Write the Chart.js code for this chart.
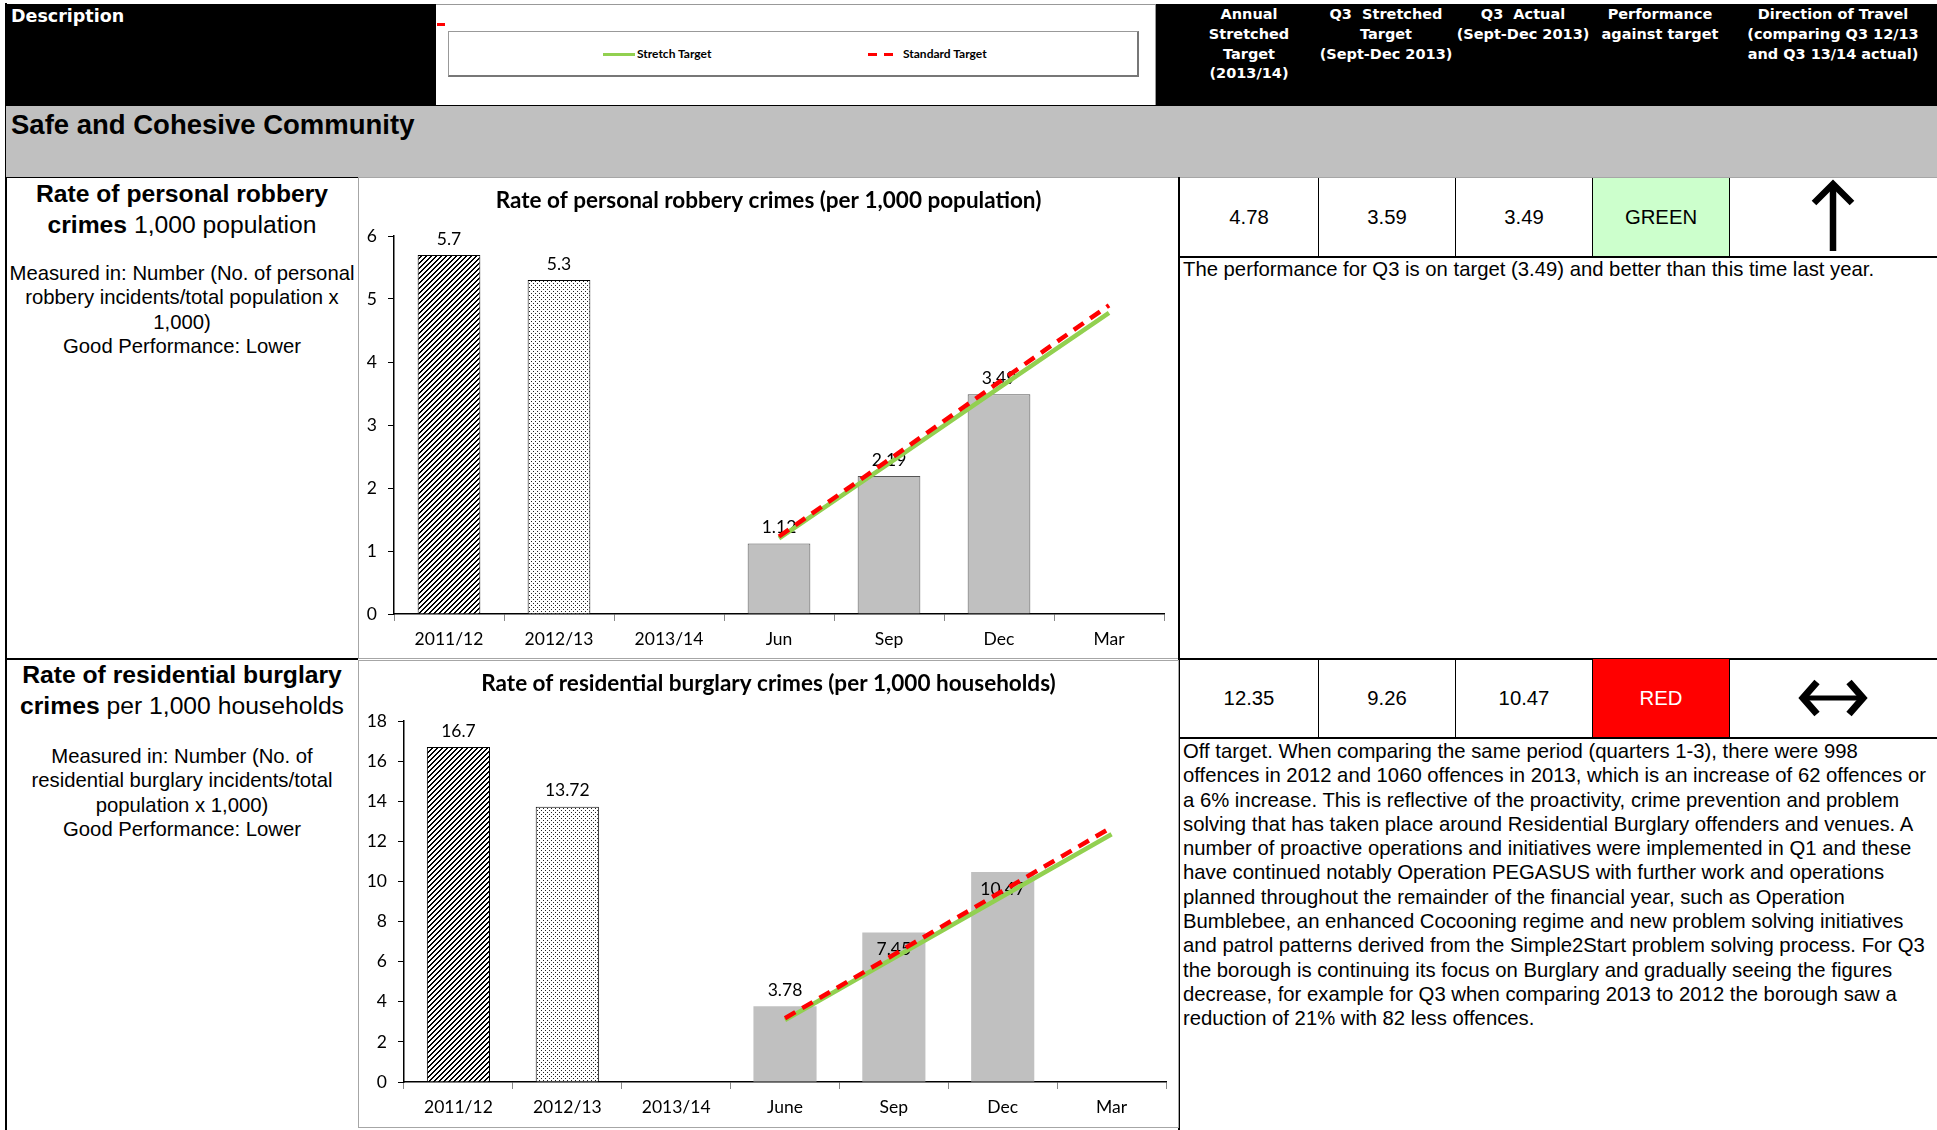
<!DOCTYPE html>
<html>
<head>
<meta charset="utf-8">
<script src="https://cdn.jsdelivr.net/npm/chart.js@4.4.1/dist/chart.umd.min.js"></script>
<style>
  body { margin: 0; width: 1937px; height: 1130px; overflow: hidden; background: #fff; font-family: "Liberation Sans", Arial, sans-serif; color: #000; position: relative; }
  .abs { position: absolute; }
  .hdr { font-family: "DejaVu Sans", Verdana, sans-serif; font-weight: bold; color: #fff; font-size: 14.5px; line-height: 19.8px; text-align: center; white-space: nowrap; }
  .cell { position: absolute; display: flex; align-items: center; justify-content: center; font-size: 20.3px; box-sizing: border-box; }
  .note { position: absolute; font-size: 20.3px; line-height: 24.3px; white-space: nowrap; }
  .lefttitle { position: absolute; left: 6px; width: 352px; text-align: center; font-size: 24.7px; line-height: 30.8px; white-space: nowrap; }
  .leftnote { position: absolute; left: 6px; width: 352px; text-align: center; font-size: 20.3px; line-height: 24.3px; white-space: nowrap; }
  .box { position: absolute; border: 1px solid #a6a6a6; box-sizing: border-box; }
  .legtxt { position: absolute; font-family: Lato, sans-serif; font-weight: bold; font-size: 12px; line-height: 14px; }
</style>
</head>
<body>

<!-- page frame -->
<div class="abs" style="left:5px;top:3px;width:2px;height:1127px;background:#000"></div>

<!-- header -->
<div class="abs" style="left:6px;top:4px;width:430px;height:102px;background:#000"></div>
<div class="abs hdr" style="left:11px;top:5px;font-size:17.5px;line-height:22px;text-align:left">Description</div>

<div class="abs" style="left:436px;top:4px;width:720px;height:102px;background:#fff;border-top:1px solid #999;border-right:1px solid #999;box-sizing:border-box"></div>
<div class="abs" style="left:437px;top:23px;width:8px;height:3px;background:#ff0000"></div>
<div class="abs" style="left:448px;top:31px;width:691px;height:46px;border:1px solid #999;border-right:2px solid #777;border-bottom:2px solid #777;box-sizing:border-box"></div>
<div class="abs" style="left:603px;top:53px;width:32px;height:3px;background:#92d050"></div>
<div class="legtxt" style="left:637px;top:47px">Stretch Target</div>
<div class="abs" style="left:868px;top:53px;width:9px;height:3px;background:#ff0000"></div>
<div class="abs" style="left:884px;top:53px;width:9px;height:3px;background:#ff0000"></div>
<div class="legtxt" style="left:903px;top:47px">Standard Target</div>

<div class="abs" style="left:1156px;top:4px;width:781px;height:102px;background:#000"></div>
<div class="abs hdr" style="left:1180px;top:5px;width:138px">Annual<br>Stretched<br>Target<br>(2013/14)</div>
<div class="abs hdr" style="left:1317px;top:5px;width:138px">Q3&nbsp; Stretched<br>Target<br>(Sept-Dec 2013)</div>
<div class="abs hdr" style="left:1454px;top:5px;width:138px">Q3&nbsp; Actual<br>(Sept-Dec 2013)</div>
<div class="abs hdr" style="left:1591px;top:5px;width:138px">Performance<br>against target</div>
<div class="abs hdr" style="left:1729px;top:5px;width:208px">Direction of Travel<br>(comparing Q3 12/13<br>and Q3 13/14 actual)</div>

<!-- section band -->
<div class="abs" style="left:6px;top:105px;width:1931px;height:72px;background:#c0c0c0;border-top:1px solid #000;box-sizing:border-box"></div>
<div class="abs" style="left:11px;top:109px;font-size:27.5px;line-height:32px;font-weight:bold;white-space:nowrap">Safe and Cohesive Community</div>

<!-- row 1 -->
<div class="abs" style="left:6px;top:177px;width:352px;height:1px;background:#000"></div>
<div class="lefttitle" style="top:179px"><b>Rate of personal robbery</b><br><b>crimes</b> 1,000 population</div>
<div class="leftnote" style="top:261px">Measured in: Number (No. of personal<br>robbery incidents/total population x<br>1,000)<br>Good Performance: Lower</div>
<div class="box" style="left:358px;top:177px;width:821px;height:482px"></div>
<canvas id="robbery" class="abs" width="819" height="481" style="left:359px;top:177px"></canvas>

<div class="abs" style="left:1179px;top:177px;width:758px;height:1px;background:#a6a6a6"></div>
<div class="abs" style="left:1178px;top:177px;width:1.5px;height:953px;background:#000"></div>
<div class="cell" style="left:1180px;top:178px;width:138px;height:79px">4.78</div>
<div class="cell" style="left:1318px;top:178px;width:137px;height:79px;border-left:1px solid #000">3.59</div>
<div class="cell" style="left:1455px;top:178px;width:137px;height:79px;border-left:1px solid #000">3.49</div>
<div class="cell" style="left:1592px;top:178px;width:137px;height:79px;border-left:1px solid #000;background:#ccffcc">GREEN</div>
<div class="cell" style="left:1729px;top:178px;width:208px;height:79px;border-left:1px solid #000"></div>
<svg class="abs" style="left:1729px;top:177px" width="208" height="80">
  <polyline points="85,26 104,7 123,26" fill="none" stroke="#000" stroke-width="6.5" stroke-linejoin="miter"/>
  <line x1="104" y1="10" x2="104" y2="74" stroke="#000" stroke-width="6.5"/>
</svg>
<div class="abs" style="left:1179px;top:256px;width:758px;height:1.5px;background:#000"></div>
<div class="note" style="left:1183px;top:257px">The performance for Q3 is on target (3.49) and better than this time last year.</div>

<!-- row 2 -->
<div class="abs" style="left:6px;top:658px;width:352px;height:1.5px;background:#000"></div>
<div class="lefttitle" style="top:660px"><b>Rate of residential burglary</b><br><b>crimes</b> per 1,000 households</div>
<div class="leftnote" style="top:744px">Measured in: Number (No. of<br>residential burglary incidents/total<br>population x 1,000)<br>Good Performance: Lower</div>
<div class="box" style="left:358px;top:660px;width:821px;height:468px"></div>
<canvas id="burglary" class="abs" width="819" height="467" style="left:359px;top:660px"></canvas>

<div class="abs" style="left:1179px;top:658px;width:758px;height:1.5px;background:#000"></div>
<div class="cell" style="left:1180px;top:659px;width:138px;height:79px">12.35</div>
<div class="cell" style="left:1318px;top:659px;width:137px;height:79px;border-left:1px solid #000">9.26</div>
<div class="cell" style="left:1455px;top:659px;width:137px;height:79px;border-left:1px solid #000">10.47</div>
<div class="cell" style="left:1592px;top:659px;width:137px;height:79px;border-left:1px solid #000;background:#ff0000;color:#fff">RED</div>
<div class="cell" style="left:1729px;top:659px;width:208px;height:79px;border-left:1px solid #000"></div>
<svg class="abs" style="left:1729px;top:658px" width="208" height="80">
  <polyline points="88,24 74,40 88,56" fill="none" stroke="#000" stroke-width="7" stroke-linejoin="miter"/>
  <polyline points="120,24 134,40 120,56" fill="none" stroke="#000" stroke-width="7" stroke-linejoin="miter"/>
  <line x1="78" y1="40" x2="130" y2="40" stroke="#000" stroke-width="5"/>
</svg>
<div class="abs" style="left:1179px;top:737px;width:758px;height:1.5px;background:#000"></div>
<div class="note" style="left:1183px;top:739px">Off target. When comparing the same period (quarters 1-3), there were 998<br>offences in 2012 and 1060 offences in 2013, which is an increase of 62 offences or<br>a 6% increase. This is reflective of the proactivity, crime prevention and problem<br>solving that has taken place around Residential Burglary offenders and venues. A<br>number of proactive operations and initiatives were implemented in Q1 and these<br>have continued notably Operation PEGASUS with further work and operations<br>planned throughout the remainder of the financial year, such as Operation<br>Bumblebee, an enhanced Cocooning regime and new problem solving initiatives<br>and patrol patterns derived from the Simple2Start problem solving process. For Q3<br>the borough is continuing its focus on Burglary and gradually seeing the figures<br>decrease, for example for Q3 when comparing 2013 to 2012 the borough saw a<br>reduction of 21% with 82 less offences.</div>

<script>
// robbery chart data
var robberyLabels = ['2011/12', '2012/13', '2013/14', 'Jun', 'Sep', 'Dec', 'Mar'];
var robberyActual = [5.7, 5.3, null, 1.12, 2.19, 3.49, null];
var robberyStretch = [null, null, null, 1.2, 2.39, 3.59, 4.78];
var robberyStandard = [null, null, null, 1.23, 2.45, 3.68, 4.9];
var robberyTicks = [0, 1, 2, 3, 4, 5, 6];

// burglary chart data
var burglaryLabels = ['2011/12', '2012/13', '2013/14', 'June', 'Sep', 'Dec', 'Mar'];
var burglaryActual = [16.7, 13.72, null, 3.78, 7.45, 10.47, null];
var burglaryStretch = [null, null, null, 3.09, 6.18, 9.26, 12.35];
var burglaryStandard = [null, null, null, 3.18, 6.35, 9.53, 12.7];
var burglaryTicks = [0, 2, 4, 6, 8, 10, 12, 14, 16, 18];

Chart.defaults.color = '#000';
Chart.defaults.font.family = 'Lato';

// diagonal "/" hatch, drawn pixel by pixel so it stays crisp
function hatchPattern() {
  var c = document.createElement('canvas');
  c.width = 5; c.height = 5;
  var g = c.getContext('2d');
  g.fillStyle = '#fff';
  g.fillRect(0, 0, 5, 5);
  g.fillStyle = '#000';
  for (var x = 0; x < 5; x++) {
    for (var y = 0; y < 5; y++) {
      if ((x + y) % 5 < 2) g.fillRect(x, y, 1, 1);
    }
  }
  return g.createPattern(c, 'repeat');
}

function dotPattern() {
  var c = document.createElement('canvas');
  c.width = 4; c.height = 4;
  var g = c.getContext('2d');
  g.fillStyle = '#fff';
  g.fillRect(0, 0, 4, 4);
  g.fillStyle = '#222';
  g.fillRect(0, 0, 1, 1);
  g.fillRect(2, 2, 1, 1);
  return g.createPattern(c, 'repeat');
}

// value labels on the bars (drawn before the target lines)
var barLabels = {
  id: 'barLabels',
  afterDatasetDraw: function(chart, args, opts) {
    if (args.index !== 0) return;
    var ctx = chart.ctx;
    var values = chart.data.datasets[0].data;
    ctx.save();
    ctx.font = '17.5px Lato';
    ctx.fillStyle = '#000';
    ctx.textAlign = 'center';
    ctx.textBaseline = 'middle';
    args.meta.data.forEach(function(bar, i) {
      if (values[i] == null) return;
      var inside = opts.inside && opts.inside[i];
      ctx.fillText(String(values[i]), bar.x, inside ? bar.y + 17 : bar.y - 16);
    });
    ctx.restore();
  }
};

// chart title centred on the whole chart box, like the spreadsheet
var boxTitle = {
  id: 'boxTitle',
  afterDraw: function(chart, args, opts) {
    var ctx = chart.ctx;
    ctx.save();
    ctx.font = 'bold 22.5px Lato';
    ctx.fillStyle = '#000';
    ctx.textAlign = 'center';
    ctx.textBaseline = 'middle';
    ctx.fillText(opts.text, chart.width / 2, opts.y);
    ctx.restore();
  }
};

function makeChart(id, cfg) {
  var grey = '#c0c0c0';
  return new Chart(document.getElementById(id), {
    type: 'bar',
    data: {
      labels: cfg.labels,
      datasets: [
        {
          label: 'Actual',
          data: cfg.actual,
          order: 2,
          backgroundColor: [hatchPattern(), dotPattern(), grey, grey, grey, grey, grey],
          borderColor: ['#000', '#000', cfg.monthBorder, cfg.monthBorder, cfg.monthBorder, cfg.monthBorder, cfg.monthBorder],
          borderWidth: cfg.monthBorder ? 1 : [1, 1, 0, 0, 0, 0, 0],
          barPercentage: cfg.barPct,
          categoryPercentage: 1
        },
        {
          type: 'line',
          label: 'Standard Target',
          data: cfg.standard,
          order: 0,
          borderColor: '#ff0000',
          borderWidth: 4.5,
          borderDash: [12, 8],
          pointRadius: 0,
          fill: false
        },
        {
          type: 'line',
          label: 'Stretch Target',
          data: cfg.stretch,
          order: 1,
          borderColor: '#92d050',
          borderWidth: 4.5,
          pointRadius: 0,
          fill: false
        }
      ]
    },
    options: {
      responsive: false,
      animation: false,
      layout: { padding: { left: 0, right: cfg.padRight, top: cfg.padTop, bottom: 0 } },
      plugins: {
        legend: { display: false },
        tooltip: { enabled: false },
        title: { display: false },
        boxTitle: { text: cfg.title, y: 24 },
        barLabels: { inside: cfg.inside }
      },
      scales: {
        x: {
          offset: true,
          grid: { display: true, drawOnChartArea: false, drawTicks: true, tickLength: 7, color: '#888', offset: true },
          border: { display: true, color: '#000', width: 1.5 },
          ticks: { font: { size: 17.5 }, color: '#000', padding: 8, maxRotation: 0, autoSkip: false },
          afterFit: function(s) { s.height = cfg.xHeight; }
        },
        y: {
          min: cfg.ticks[0],
          max: cfg.ticks[cfg.ticks.length - 1],
          afterBuildTicks: function(s) { s.ticks = cfg.ticks.map(function(v) { return { value: v }; }); },
          grid: { drawOnChartArea: false, drawTicks: true, tickLength: 6, color: '#000' },
          border: { display: true, color: '#000', width: 1.5 },
          ticks: { font: { size: 17.5 }, color: '#000', padding: 11 },
          afterFit: function(s) { s.width = cfg.yWidth; }
        }
      }
    },
    plugins: [barLabels, boxTitle]
  });
}

makeChart('robbery', {
  labels: robberyLabels, actual: robberyActual, stretch: robberyStretch, standard: robberyStandard,
  ticks: robberyTicks, title: 'Rate of personal robbery crimes (per 1,000 population)',
  monthBorder: '#555', barPct: 0.57, padRight: 14, padTop: 59, yWidth: 35, xHeight: 44,
  inside: null
});

makeChart('burglary', {
  labels: burglaryLabels, actual: burglaryActual, stretch: burglaryStretch, standard: burglaryStandard,
  ticks: burglaryTicks, title: 'Rate of residential burglary crimes (per 1,000 households)',
  monthBorder: null, barPct: 0.58, padRight: 12, padTop: 61, yWidth: 45, xHeight: 45,
  inside: [false, false, false, false, true, true, false]
});
</script>
</body>
</html>
